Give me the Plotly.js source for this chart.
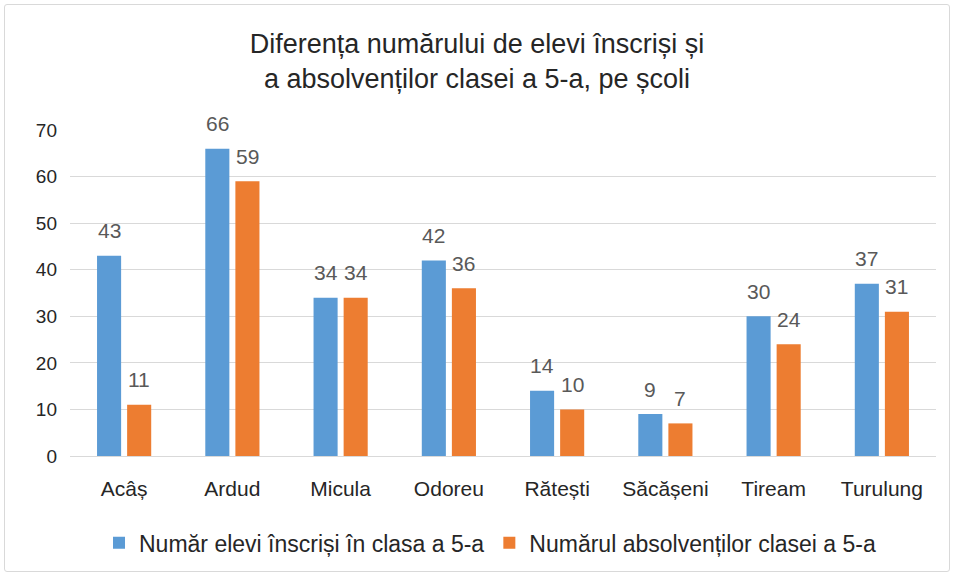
<!DOCTYPE html>
<html>
<head>
<meta charset="utf-8">
<script src="https://cdn.plot.ly/plotly-3.0.1.min.js"></script>
<style>
html,body{margin:0;padding:0;background:#fff;}
#wrap{position:absolute;left:4px;top:4px;width:946px;height:568px;border:1px solid #d9d9d9;border-radius:3px;box-sizing:border-box;}
#chart{position:absolute;left:0;top:0;width:954px;height:576px;}
</style>
</head>
<body>
<div id="wrap"></div>
<div id="chart"></div>
<script>
const categories = ["Acâș", "Ardud", "Micula", "Odoreu", "Rătești", "Săcășeni", "Tiream", "Turulung"];
const enrolled = [43, 66, 34, 42, 14, 9, 30, 37];
const graduates = [11, 59, 34, 36, 10, 7, 24, 31];
const seriesNames = ["Număr elevi înscriși în clasa a 5-a", "Numărul absolvenților clasei a 5-a"];
const yTicks = [0, 10, 20, 30, 40, 50, 60, 70];

const font = "'Liberation Sans', Arial, sans-serif";

const traces = [
  {type: "bar", x: categories, y: enrolled, name: seriesNames[0], marker: {color: "#5B9BD5"}},
  {type: "bar", x: categories, y: graduates, name: seriesNames[1], marker: {color: "#ED7D31"}}
];

// value labels placed with the axis scales (data coordinates)
const labelFont = {size: 21, color: "#595959", family: font};
const annotations = [];
categories.forEach((c, i) => {
  annotations.push({x: c, y: enrolled[i], xref: "x", yref: "y", text: String(enrolled[i]),
    showarrow: false, xshift: -15, yshift: 25, yanchor: "middle", font: labelFont});
  annotations.push({x: c, y: graduates[i], xref: "x", yref: "y", text: String(graduates[i]),
    showarrow: false, xshift: 15, yshift: 25, yanchor: "middle", font: labelFont});
});

const layout = {
  width: 954, height: 576,
  paper_bgcolor: "rgba(0,0,0,0)", plot_bgcolor: "rgba(0,0,0,0)",
  margin: {l: 70, r: 18, t: 130, b: 118},
  font: {family: font, color: "#404040"},
  title: {text: "Diferența numărului de elevi înscriși și<br>a absolvenților clasei a 5-a, pe școli",
          x: 0.5, xanchor: "center", y: 0.908, yanchor: "top",
          font: {family: font, size: 27, color: "#262626"}},
  barmode: "group", bargap: 0.444, bargroupgap: 0.2,
  xaxis: {tickfont: {size: 21, color: "#262626", family: font}, showline: true, linecolor: "#d9d9d9",
          ticks: "", showgrid: false, fixedrange: true, ticklabelstandoff: 14},
  yaxis: {range: [0, 70], tickvals: yTicks, ticktext: yTicks.map(String),
          tickfont: {size: 19, color: "#262626", family: font},
          gridcolor: "#d9d9d9", gridwidth: 1, zeroline: false, ticks: "", showline: false, ticklabelstandoff: 12, fixedrange: true},
  legend: {orientation: "h", x: 0.485, xanchor: "center", y: -0.2, yanchor: "top",
           font: {size: 23, color: "#262626", family: font}, itemwidth: 30, traceorder: "normal"},
  annotations: annotations,
  showlegend: true
};

Plotly.newPlot("chart", traces, layout, {displayModeBar: false, staticPlot: true});
</script>
</body>
</html>
